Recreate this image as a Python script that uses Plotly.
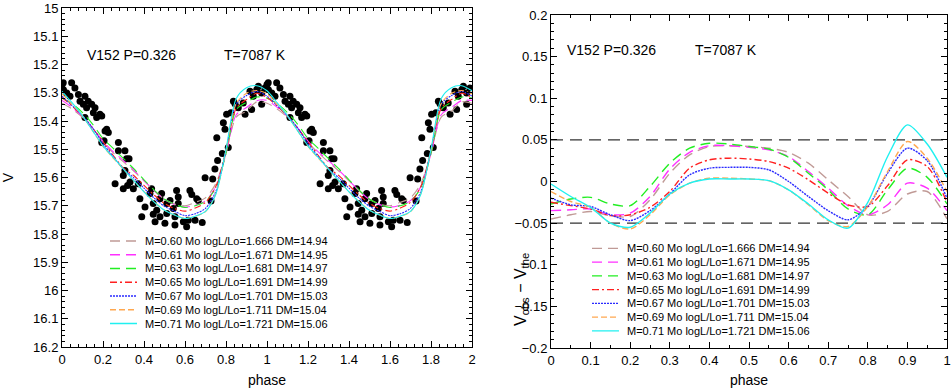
import plotly.graph_objects as go

# phase grid of the pulsation models (one cycle)
phase = [0.00, 0.05, 0.10, 0.15, 0.20, 0.25, 0.30, 0.35, 0.40, 0.45, 0.50,
         0.55, 0.60, 0.65, 0.70, 0.75, 0.80, 0.85, 0.90, 0.95, 1.00]

# model V light curves
v_060 = [15.337, 15.358, 15.387, 15.426, 15.475, 15.513, 15.545, 15.577, 15.612, 15.647, 15.677,
         15.694, 15.700, 15.688, 15.672, 15.622, 15.515, 15.386, 15.365, 15.332, 15.337]
v_061 = [15.327, 15.352, 15.384, 15.425, 15.471, 15.509, 15.540, 15.574, 15.611, 15.647, 15.678,
         15.696, 15.705, 15.698, 15.682, 15.633, 15.515, 15.378, 15.352, 15.328, 15.327]
v_063 = [15.319, 15.339, 15.370, 15.412, 15.462, 15.497, 15.533, 15.569, 15.608, 15.645, 15.677,
         15.695, 15.706, 15.700, 15.684, 15.637, 15.515, 15.360, 15.334, 15.315, 15.319]
v_065 = [15.317, 15.347, 15.384, 15.426, 15.473, 15.522, 15.567, 15.593, 15.628, 15.662, 15.692,
         15.710, 15.719, 15.708, 15.688, 15.632, 15.505, 15.355, 15.324, 15.302, 15.317]
v_067 = [15.312, 15.346, 15.381, 15.425, 15.480, 15.526, 15.570, 15.601, 15.638, 15.673, 15.702,
         15.720, 15.735, 15.728, 15.709, 15.650, 15.505, 15.340, 15.310, 15.295, 15.312]
v_069 = [15.304, 15.342, 15.382, 15.435, 15.490, 15.531, 15.571, 15.611, 15.650, 15.686, 15.716,
         15.733, 15.745, 15.738, 15.721, 15.658, 15.505, 15.338, 15.302, 15.292, 15.304]
v_071 = [15.295, 15.336, 15.382, 15.435, 15.488, 15.529, 15.570, 15.611, 15.651, 15.687, 15.716,
         15.733, 15.745, 15.737, 15.720, 15.660, 15.500, 15.320, 15.282, 15.275, 15.293]

# residuals V_obs - V_the
r_060 = [-0.045, -0.040, -0.036, -0.041, -0.042, -0.022, 0.010, 0.032, 0.042, 0.043, 0.042,
         0.040, 0.035, 0.022, 0.002, -0.018, -0.040, -0.036, -0.015, -0.012, -0.045]
r_061 = [-0.035, -0.034, -0.033, -0.040, -0.038, -0.018, 0.015, 0.035, 0.043, 0.043, 0.041,
         0.038, 0.030, 0.012, -0.008, -0.029, -0.040, -0.028, -0.002, -0.008, -0.035]
r_063 = [-0.027, -0.021, -0.019, -0.027, -0.029, -0.006, 0.022, 0.040, 0.046, 0.045, 0.042,
         0.039, 0.029, 0.010, -0.010, -0.033, -0.040, -0.010, 0.016, 0.005, -0.027]
r_065 = [-0.025, -0.029, -0.033, -0.041, -0.040, -0.031, -0.012, 0.016, 0.026, 0.028, 0.027,
         0.024, 0.016, 0.002, -0.014, -0.028, -0.030, -0.005, 0.026, 0.018, -0.025]
r_067 = [-0.020, -0.028, -0.030, -0.040, -0.047, -0.035, -0.015, 0.008, 0.016, 0.017, 0.017,
         0.014, 0.000, -0.018, -0.035, -0.046, -0.030, 0.010, 0.040, 0.025, -0.020]
r_069 = [-0.012, -0.024, -0.031, -0.050, -0.057, -0.040, -0.016, -0.002, 0.004, 0.004, 0.003,
         0.001, -0.010, -0.028, -0.047, -0.054, -0.030, 0.012, 0.048, 0.028, -0.012]
r_071 = [-0.003, -0.018, -0.031, -0.050, -0.055, -0.038, -0.015, -0.002, 0.003, 0.003, 0.003,
         0.001, -0.010, -0.027, -0.046, -0.056, -0.025, 0.030, 0.068, 0.045, 0.005]

# observed photometry of V152 (one cycle)
obs_phase = [0.000, 0.006, 0.007, 0.023, 0.039, 0.047, 0.063, 0.080, 0.088, 0.104, 0.112, 0.112,
             0.120, 0.128, 0.145, 0.153, 0.161, 0.169, 0.185, 0.194, 0.194, 0.205, 0.210, 0.218,
             0.226, 0.259, 0.275, 0.275, 0.299, 0.299, 0.307, 0.307, 0.315, 0.320, 0.327, 0.332,
             0.348, 0.372, 0.380, 0.389, 0.405, 0.429, 0.437, 0.445, 0.445, 0.454, 0.462, 0.478,
             0.478, 0.486, 0.502, 0.511, 0.511, 0.527, 0.543, 0.551, 0.551, 0.559, 0.567, 0.567,
             0.592, 0.608, 0.616, 0.624, 0.633, 0.649, 0.657, 0.665, 0.684, 0.698, 0.727, 0.735,
             0.746, 0.755, 0.759, 0.782, 0.787, 0.795, 0.803, 0.811, 0.824, 0.836, 0.844, 0.860,
             0.884, 0.893, 0.917, 0.925, 0.933, 0.950, 0.958, 0.974, 0.974, 0.990]
obs_v = [15.271, 15.265, 15.289, 15.301, 15.312, 15.265, 15.283, 15.306, 15.330, 15.341, 15.312, 15.388,
         15.353, 15.330, 15.341, 15.371, 15.353, 15.388, 15.376, 15.382, 15.476, 15.470, 15.435, 15.429,
         15.441, 15.622, 15.476, 15.505, 15.593, 15.640, 15.505, 15.575, 15.534, 15.628, 15.534, 15.616,
         15.640, 15.622, 15.675, 15.739, 15.704, 15.657, 15.640, 15.692, 15.730, 15.757, 15.716, 15.675,
         15.739, 15.657, 15.762, 15.692, 15.727, 15.681, 15.710, 15.739, 15.768, 15.646, 15.669, 15.692,
         15.757, 15.774, 15.751, 15.646, 15.660, 15.751, 15.675, 15.681, 15.759, 15.601, 15.683, 15.605,
         15.570, 15.459, 15.540, 15.515, 15.406, 15.429, 15.376, 15.494, 15.371, 15.330, 15.339, 15.353,
         15.336, 15.376, 15.295, 15.359, 15.312, 15.289, 15.277, 15.301, 15.341, 15.283]

limit_levels = [0.05, -0.05]

labels = ["M=0.60 Mo logL/Lo=1.666 DM=14.94",
          "M=0.61 Mo logL/Lo=1.671 DM=14.95",
          "M=0.63 Mo logL/Lo=1.681 DM=14.97",
          "M=0.65 Mo logL/Lo=1.691 DM=14.99",
          "M=0.67 Mo logL/Lo=1.701 DM=15.03",
          "M=0.69 Mo logL/Lo=1.711 DM=15.04",
          "M=0.71 Mo logL/Lo=1.721 DM=15.06"]
curves = [v_060, v_061, v_063, v_065, v_067, v_069, v_071]
residuals = [r_060, r_061, r_063, r_065, r_067, r_069, r_071]
colors = ["#c09a96", "#ff30ff", "#22ee22", "#ff2020", "#2a2aff", "#ffa850", "#20f0f0"]
dashes = ["10px,6px", "10px,6px", "10px,6px", "7px,3px,2px,3px", "2px,1px", "6px,3px", "solid"]

FONT = "Liberation Sans, Arial, Helvetica, sans-serif"
W, H = 952, 388

fig = go.Figure()

# left panel: light curve over two cycles
two_phase = obs_phase + [p + 1 for p in obs_phase]
fig.add_trace(go.Scatter(x=two_phase, y=obs_v + obs_v, mode="markers",
                         marker=dict(color="black", size=7), showlegend=False,
                         xaxis="x", yaxis="y"))
model_phase = phase + [p + 1 for p in phase[1:]]
for lab, v, col, dsh in zip(labels, curves, colors, dashes):
    fig.add_trace(go.Scatter(x=model_phase, y=v + v[1:], mode="lines", name=lab, showlegend=False,
                             line=dict(color=col, dash=dsh, width=1.1, shape="spline", smoothing=0.8),
                             xaxis="x", yaxis="y"))

# right panel: residuals
for lev in limit_levels:
    fig.add_trace(go.Scatter(x=[0, 1], y=[lev, lev], mode="lines", showlegend=False,
                             line=dict(color="#333333", dash="12px,7px", width=1.4),
                             xaxis="x2", yaxis="y2"))
for lab, r, col, dsh in zip(labels, residuals, colors, dashes):
    fig.add_trace(go.Scatter(x=phase, y=r, mode="lines", name=lab, showlegend=False,
                             line=dict(color=col, dash=dsh, width=1.4, shape="spline", smoothing=0.8),
                             xaxis="x2", yaxis="y2"))

# compact legends (one per panel): key line + label on a small helper axis
rows = list(range(len(labels)))
for xa, ya in (("x3", "y3"), ("x4", "y4")):
    for i, lab, col, dsh in zip(rows, labels, colors, dashes):
        fig.add_trace(go.Scatter(x=[0, 27], y=[i, i], mode="lines", showlegend=False, hoverinfo="skip",
                                 line=dict(color=col, dash=dsh, width=1.4), xaxis=xa, yaxis=ya))
        fig.add_annotation(text=lab, x=33, y=i, xref=xa, yref=ya, xanchor="left", yanchor="middle",
                           showarrow=False, font=dict(family=FONT, size=11, color="black"))

axis_common = dict(showline=True, linecolor="black", linewidth=1, mirror="allticks",
                   ticks="inside", ticklen=6, tickcolor="black", showgrid=False, zeroline=False,
                   automargin=False, ticklabeloverflow="allow",
                   tickfont=dict(family=FONT, size=13, color="black"))
hidden = dict(visible=False, showgrid=False, zeroline=False, fixedrange=True)

fig.update_layout(
    width=W, height=H, margin=dict(l=0, r=0, t=0, b=0, autoexpand=False),
    paper_bgcolor="white", plot_bgcolor="rgba(0,0,0,0)",
    font=dict(family=FONT, size=13, color="black"),
    showlegend=False,
    xaxis=dict(domain=[62 / W, 472 / W], range=[0, 2], dtick=0.2, tick0=0,
               minor=dict(dtick=0.04, ticklen=3, ticks="inside", tickcolor="black"),
               title=dict(text="phase", font=dict(size=14), standoff=9), anchor="y", **axis_common),
    yaxis=dict(domain=[1 - 347 / H, 1 - 8 / H], range=[16.2, 15], dtick=0.1, tick0=15,
               minor=dict(dtick=0.02, ticklen=3, ticks="inside", tickcolor="black"),
               title=dict(text="V", font=dict(size=14), standoff=18), anchor="x", **axis_common),
    xaxis2=dict(domain=[551 / W, 947 / W], range=[0, 1], dtick=0.1, tick0=0,
                minor=dict(dtick=0.05, ticklen=3, ticks="inside", tickcolor="black"),
                title=dict(text="phase", font=dict(size=14), standoff=9), anchor="y2", **axis_common),
    yaxis2=dict(domain=[1 - 348 / H, 1 - 15 / H], range=[-0.2, 0.2], dtick=0.05, tick0=0,
                minor=dict(dtick=0.01, ticklen=3, ticks="inside", tickcolor="black"),
                anchor="x2", **axis_common),
    xaxis3=dict(domain=[110 / W, 330 / W], range=[0, 220], anchor="y3", **hidden),
    yaxis3=dict(domain=[1 - 330.4 / H, 1 - 234.1 / H], range=[6.5, -0.5], anchor="x3", **hidden),
    xaxis4=dict(domain=[592 / W, 812 / W], range=[0, 220], anchor="y4", **hidden),
    yaxis4=dict(domain=[1 - 337.7 / H, 1 - 241.5 / H], range=[6.5, -0.5], anchor="x4", **hidden),
)

ann_font = dict(family=FONT, size=14, color="black")
fig.add_annotation(text="V152 P=0.326", x=85 / W, y=1 - 55 / H, xref="paper", yref="paper",
                   xanchor="left", yanchor="middle", showarrow=False, font=ann_font)
fig.add_annotation(text="T=7087 K", x=222 / W, y=1 - 55 / H, xref="paper", yref="paper",
                   xanchor="left", yanchor="middle", showarrow=False, font=ann_font)
fig.add_annotation(text="V152 P=0.326", x=565 / W, y=1 - 50 / H, xref="paper", yref="paper",
                   xanchor="left", yanchor="middle", showarrow=False, font=ann_font)
fig.add_annotation(text="T=7087 K", x=693 / W, y=1 - 50 / H, xref="paper", yref="paper",
                   xanchor="left", yanchor="middle", showarrow=False, font=ann_font)
fig.add_annotation(text="V<sub>obs</sub> \u2212 V<sub>the</sub>", x=521 / W, y=1 - 290 / H,
                   xref="paper", yref="paper", textangle=-90, showarrow=False,
                   xanchor="center", yanchor="middle", font=dict(family=FONT, size=16, color="black"))

# the page body has a default 8px margin; remove it so the figure sits at the window corner
fig.write_html("out.html", config={"displayModeBar": False},
               post_script="document.body.style.margin = '0';")
